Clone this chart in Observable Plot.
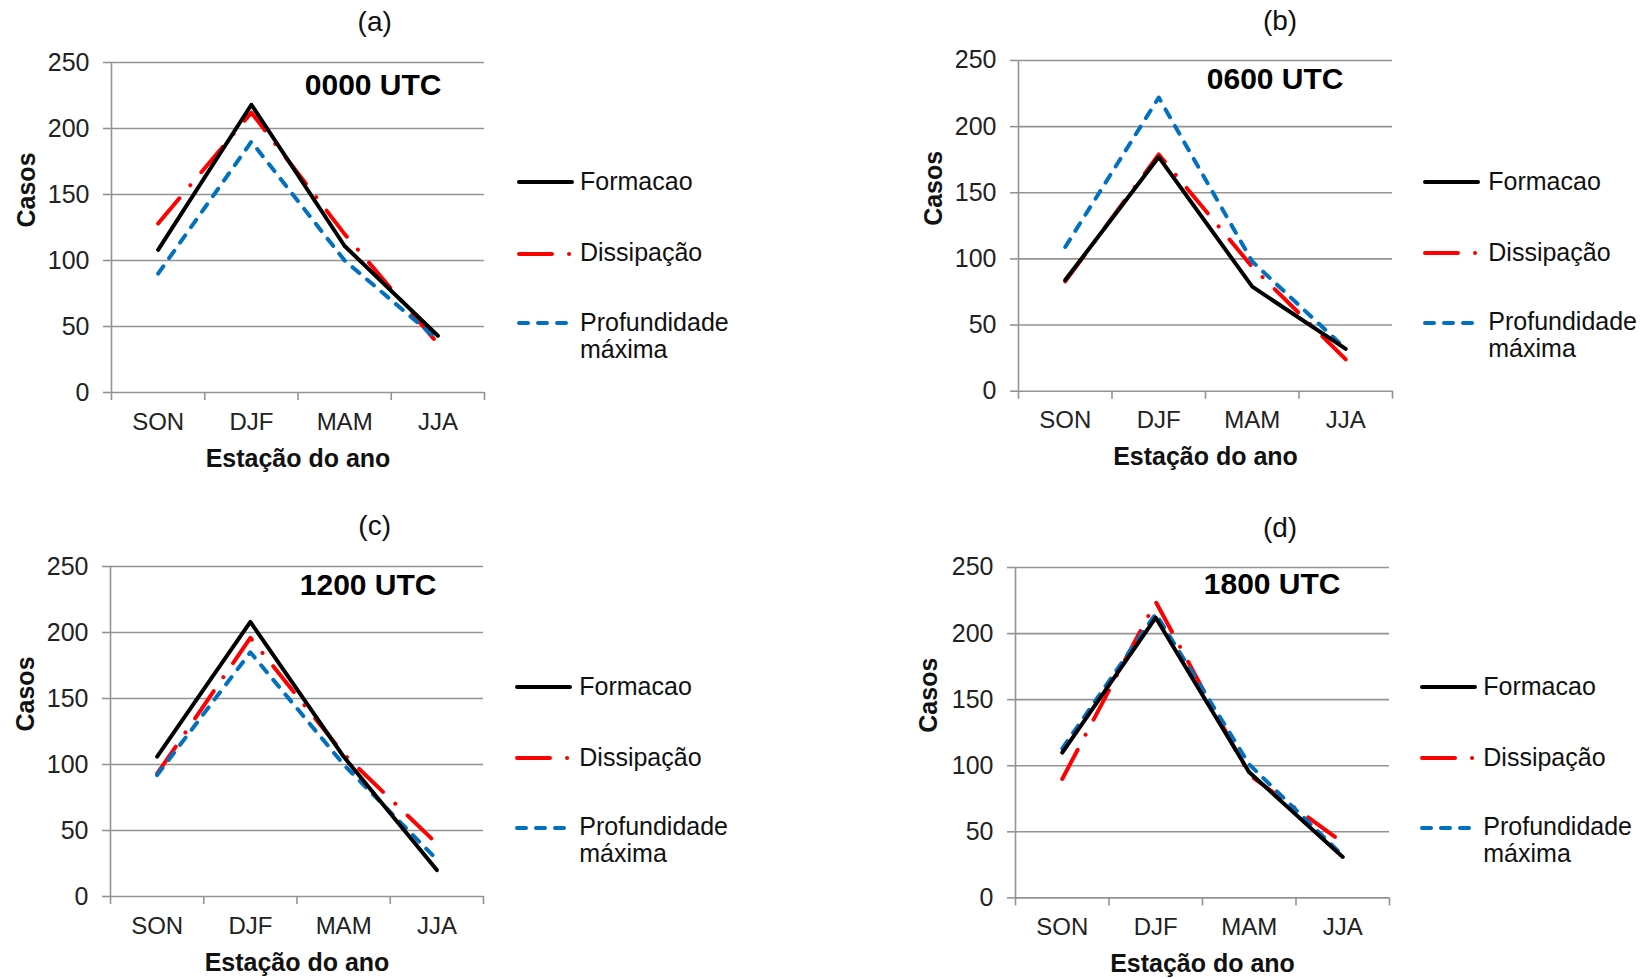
<!DOCTYPE html>
<html><head><meta charset="utf-8">
<script src="https://cdn.jsdelivr.net/npm/d3@7"></script>
<script src="https://cdn.jsdelivr.net/npm/@observablehq/plot@0.6"></script>
<style>
html,body{margin:0;padding:0;background:#fff;}
#root{position:relative;width:1646px;height:979px;overflow:hidden;font-family:"Liberation Sans",Arial,sans-serif;}
.t{position:absolute;white-space:nowrap;color:#111;}
.p{position:absolute;}
.sw{position:absolute;overflow:visible;}
</style></head><body><div id="root"></div>
<script>
// ---- data ----
const seasons = ["SON", "DJF", "MAM", "JJA"];
const seriesNames = ["Formacao", "Dissipação", "Profundidade máxima"];
const panelTags = ["(a)", "(b)", "(c)", "(d)"];
const hourLabels = ["0000 UTC", "0600 UTC", "1200 UTC", "1800 UTC"];
const yTicks = [0, 50, 100, 150, 200, 250];
const xTitle = "Estação do ano";
const yTitle = "Casos";

const formacao0000 = [108, 218, 111, 43];
const dissipacao0000 = [128, 212, 120, 37];
const profundidade0000 = [90, 190, 100, 40];

const formacao0600 = [84, 177, 79, 32];
const dissipacao0600 = [83, 179, 94, 24];
const profundidade0600 = [109, 222, 98, 32];

const formacao1200 = [106, 208, 106, 20];
const dissipacao1200 = [93, 196, 108, 40];
const profundidade1200 = [92, 185, 100, 28];

const formacao1800 = [110, 212, 95, 31];
const dissipacao1800 = [90, 224, 93, 42];
const profundidade1800 = [113, 215, 101, 32];

const panelSeries = [
  [formacao0000, dissipacao0000, profundidade0000],
  [formacao0600, dissipacao0600, profundidade0600],
  [formacao1200, dissipacao1200, profundidade1200],
  [formacao1800, dissipacao1800, profundidade1800]
];

// ---- styles / layout ----
const gridColor = "#939393";
const lineStyles = [
  {stroke: "#000000", dash: null, cap: "round"},
  {stroke: "#ff0000", dash: "33 17 0.1 17", cap: "round"},
  {stroke: "#0070c0", dash: "9 10", cap: "round"}
];
const drawOrder = [1, 2, 0];
const layout = [
  {frame: [111, 484, 61.7, 391.7], tag: [374.7, 5.7], hdx: -43, hdy: 23, cdx: -85,
   legend: {sw: 516.7, tx: 580, y: [182.3, 253.5, 323.3]}},
  {frame: [1017.7, 1391.7, 60, 390.7], tag: [1280, 5.4], hdx: -49, hdy: 18.5, cdx: -85,
   legend: {sw: 1423.3, tx: 1488.3, y: [182.3, 252.7, 322.7]}},
  {frame: [110, 483, 565.7, 895.7], tag: [374.7, 509.9], hdx: -47, hdy: 18.5, cdx: -85,
   legend: {sw: 515, tx: 579.3, y: [687.3, 758.3, 827.7]}},
  {frame: [1015, 1389, 567.3, 897.7], tag: [1280, 511.9], hdx: -49, hdy: 16.5, cdx: -87,
   legend: {sw: 1420, tx: 1483.3, y: [687.3, 758.3, 827.7]}}
];

const root = document.getElementById("root");
const FONT = "'Liberation Sans', Arial, sans-serif";

function addText(x, top, str, size, opts = {}) {
  const d = document.createElement("div");
  d.className = "t";
  d.textContent = str;
  d.style.fontSize = size + "px";
  d.style.lineHeight = (opts.lh || Math.round(size * 1.12)) + "px";
  d.style.top = top + "px";
  d.style.left = x + "px";
  if (opts.center) { d.style.transform = "translateX(-50%)"; d.style.textAlign = "center"; }
  if (opts.bold) d.style.fontWeight = "bold";
  if (opts.color) d.style.color = opts.color;
  root.appendChild(d);
  return d;
}

function addSwatch(x, y, st, w) {
  const ns = "http://www.w3.org/2000/svg";
  const s = document.createElementNS(ns, "svg");
  s.setAttribute("class", "sw");
  s.setAttribute("width", w + 4);
  s.setAttribute("height", 12);
  s.style.left = (x - 2) + "px";
  s.style.top = (y - 6) + "px";
  const l = document.createElementNS(ns, "line");
  l.setAttribute("x1", 4);
  l.setAttribute("x2", w);
  l.setAttribute("y1", 6); l.setAttribute("y2", 6);
  l.setAttribute("stroke", st.stroke);
  l.setAttribute("stroke-width", 4);
  l.setAttribute("stroke-linecap", st.cap);
  if (st.dash) l.setAttribute("stroke-dasharray", st.dash);
  s.appendChild(l);
  root.appendChild(s);
}

const mL = 110, mR = 20, mT = 20, mB = 90;

panelSeries.forEach((vals, p) => {
  const L = layout[p];
  const [fl, fr, ft, fb] = L.frame;
  const rows = [];
  vals.forEach((arr, si) => arr.forEach((v, i) => rows.push({series: seriesNames[si], season: seasons[i], value: v})));

  const lineMarks = drawOrder.map(si => {
    const st = lineStyles[si];
    return Plot.line(rows.filter(r => r.series === seriesNames[si]), {
      x: r => seasons.indexOf(r.season) + 0.5,
      y: "value",
      stroke: st.stroke,
      strokeWidth: 4,
      strokeLinejoin: "round",
      strokeLinecap: st.cap,
      strokeDasharray: st.dash
    });
  });

  const chart = Plot.plot({
    width: (fr - fl) + mL + mR,
    height: (fb - ft) + mT + mB,
    marginLeft: mL, marginRight: mR, marginTop: mT, marginBottom: mB,
    x: {type: "linear", domain: [0, seasons.length], axis: null},
    y: {domain: [0, 250], axis: null},
    style: {fontFamily: FONT, fontSize: "24px", background: "transparent", overflow: "visible", color: "#222"},
    marks: [
      Plot.gridY({ticks: yTicks, stroke: gridColor, strokeOpacity: 1, strokeWidth: 1.6}),
      Plot.ruleX([0], {stroke: gridColor, strokeWidth: 1.6}),
      Plot.axisY({ticks: yTicks, tickSize: 8, tickPadding: 14, stroke: gridColor, strokeWidth: 1.6, fill: "#222", fontSize: 25, label: null}),
      Plot.axisX({ticks: d3.range(seasons.length + 1), tickSize: 8, tickFormat: () => "", stroke: gridColor, strokeWidth: 1.6, label: null}),
      Plot.axisX({ticks: seasons.map((s, i) => i + 0.5), tickSize: 0, tickPadding: 20, tickFormat: d => seasons[Math.floor(d)], fill: "#222", fontSize: 24, label: null}),
      ...lineMarks,
      Plot.text([hourLabels[p]], {text: d => d, frameAnchor: "top-right", textAnchor: "end", lineAnchor: "middle", dx: L.hdx, dy: L.hdy, fontSize: 30, fontWeight: "bold", fill: "#000"}),
      Plot.text([xTitle], {text: d => d, frameAnchor: "bottom", lineAnchor: "middle", dy: 66, fontSize: 25, fontWeight: "bold", fill: "#111"}),
      Plot.text([yTitle], {text: d => d, frameAnchor: "left", lineAnchor: "middle", dx: L.cdx, rotate: -90, fontSize: 25, fontWeight: "bold", fill: "#111"})
    ]
  });
  chart.classList.add("p");
  chart.style.position = "absolute";
  chart.style.left = (fl - mL) + "px";
  chart.style.top = (ft - mT) + "px";
  root.appendChild(chart);

  // panel tag above
  addText(L.tag[0], L.tag[1], panelTags[p], 28, {center: true, color: "#111"});

  // legend
  const lg = L.legend;
  const swW = [57, 57, 52];
  seriesNames.forEach((name, si) => {
    addSwatch(lg.sw, lg.y[si], lineStyles[si], swW[si]);
    const capCenter = lg.y[si] - 1.5;
    if (si === 2) {
      const d = addText(lg.tx, capCenter - 13.2, "", 25, {lh: 27});
      d.innerHTML = "Profundidade<br>máxima";
    } else {
      addText(lg.tx, capCenter - 13.7, name, 25, {lh: 28});
    }
  });
});
</script></body></html>
